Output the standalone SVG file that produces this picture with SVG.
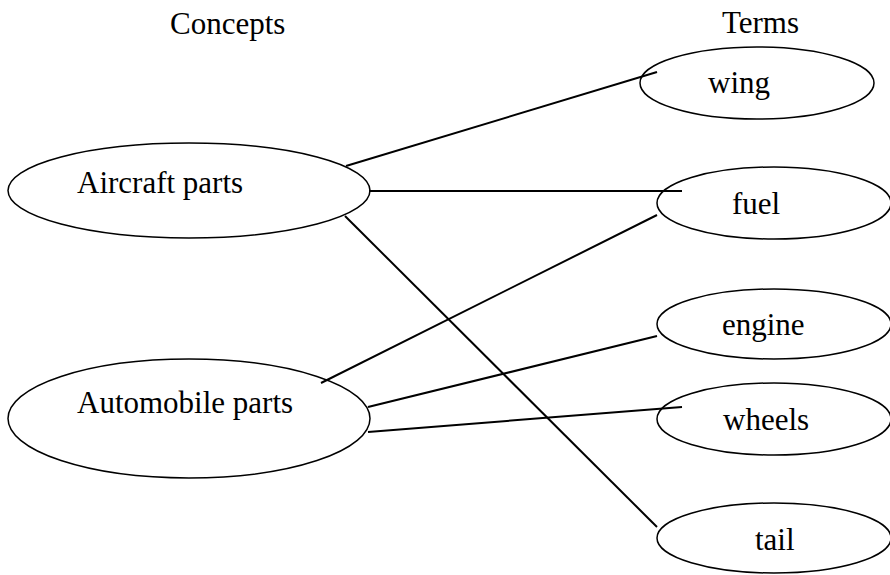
<svg xmlns="http://www.w3.org/2000/svg" width="890" height="575" viewBox="0 0 890 575">
<style>
.n ellipse{fill:#fff;stroke:#000;stroke-width:1.5}
text{font-family:"Liberation Serif","Times New Roman",serif;font-size:31px;fill:#000}
#connectors line{stroke:#000;stroke-width:2}
</style>
<rect width="890" height="575" fill="#fff"/>
<text x="170" y="34">Concepts</text>
<text x="722" y="33">Terms</text>
<g id="n-aircraft" class="n"><ellipse cx="189" cy="190.5" rx="181" ry="47.5"/><text x="77" y="193">Aircraft parts</text></g>
<g id="n-automobile" class="n"><ellipse cx="189" cy="418.5" rx="181" ry="59.5"/><text x="77" y="413">Automobile parts</text></g>
<g id="n-wing" class="n"><ellipse cx="757" cy="83" rx="117" ry="36"/><text x="708" y="93">wing</text></g>
<g id="n-fuel" class="n"><ellipse cx="774" cy="203" rx="117" ry="36"/><text x="732" y="214">fuel</text></g>
<g id="n-engine" class="n"><ellipse cx="774" cy="324" rx="117" ry="35"/><text x="722" y="335">engine</text></g>
<g id="n-wheels" class="n"><ellipse cx="774" cy="419" rx="117" ry="36"/><text x="723" y="430">wheels</text></g>
<g id="n-tail" class="n"><ellipse cx="774" cy="538" rx="117" ry="35"/><text x="755" y="550">tail</text></g>
<g id="connectors">
<line x1="346" y1="166" x2="657" y2="72"/>
<line x1="369" y1="191" x2="682" y2="191"/>
<line x1="345" y1="216" x2="657" y2="527"/>
<line x1="321" y1="383" x2="657" y2="215"/>
<line x1="368" y1="407" x2="657" y2="336"/>
<line x1="368" y1="432" x2="682" y2="407"/>
</g>
</svg>
